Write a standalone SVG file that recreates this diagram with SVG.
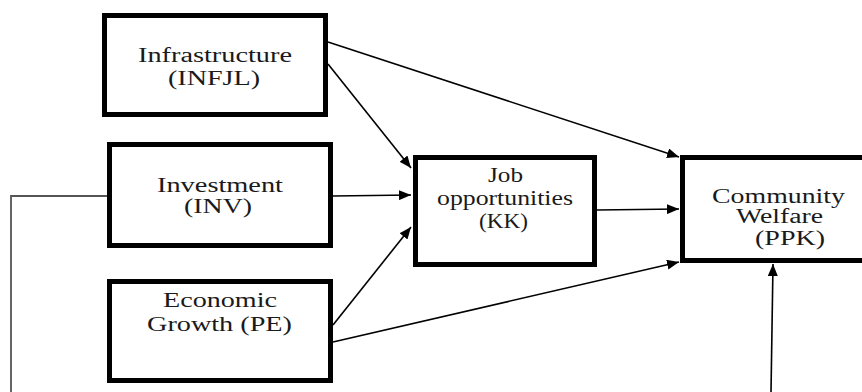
<svg xmlns="http://www.w3.org/2000/svg" width="862" height="392" viewBox="0 0 862 392">
<defs>
<marker id="ah" viewBox="0 0 12 10" refX="12" refY="5" markerWidth="12" markerHeight="10" markerUnits="userSpaceOnUse" orient="auto">
<path d="M0,0 L12,5 L0,10 Z" fill="#000"/>
</marker>
<style>
.box{fill:#fff;stroke:#000;stroke-width:5}
.t{font-family:'Liberation Serif','Times New Roman',serif;font-size:20px;fill:#1a1a1a}
.c{fill:none;stroke:#000;stroke-width:1.6}
.f{fill:none;stroke:#555;stroke-width:1.8}
</style>
</defs>
<rect width="862" height="392" fill="#fff"/>
<g id="connectors">
<line class="c" x1="328" y1="42" x2="679" y2="157" marker-end="url(#ah)"/>
<line class="c" x1="328" y1="64" x2="411" y2="168" marker-end="url(#ah)"/>
<line class="c" x1="333" y1="196" x2="411" y2="195" marker-end="url(#ah)"/>
<line class="c" x1="333" y1="325" x2="411" y2="227" marker-end="url(#ah)"/>
<line class="c" x1="333" y1="342" x2="679" y2="262" marker-end="url(#ah)"/>
<line class="c" x1="597" y1="210" x2="679" y2="209" marker-end="url(#ah)"/>
<polyline class="f" points="107,196 11,196 11,392"/>
<line class="c" x1="771" y1="392" x2="773" y2="264" marker-end="url(#ah)"/>
</g>
<g id="INFJL">
<rect class="box" x="104.5" y="15.5" width="221" height="99"/>
<text class="t" x="138" y="62" textLength="154" lengthAdjust="spacingAndGlyphs">Infrastructure</text>
<text class="t" x="168" y="85" textLength="92" lengthAdjust="spacingAndGlyphs">(INFJL)</text>
</g>
<g id="INV">
<rect class="box" x="109.5" y="144.5" width="221" height="101"/>
<text class="t" x="157" y="192" textLength="126" lengthAdjust="spacingAndGlyphs">Investment</text>
<text class="t" x="184" y="213" textLength="68" lengthAdjust="spacingAndGlyphs">(INV)</text>
</g>
<g id="PE">
<rect class="box" x="109.5" y="281.5" width="221" height="99"/>
<text class="t" x="163" y="307" textLength="114" lengthAdjust="spacingAndGlyphs">Economic</text>
<text class="t" x="147" y="331" textLength="145" lengthAdjust="spacingAndGlyphs">Growth (PE)</text>
</g>
<g id="KK">
<rect class="box" x="415.5" y="157.5" width="179" height="107"/>
<text class="t" x="488" y="182" textLength="35" lengthAdjust="spacingAndGlyphs">Job</text>
<text class="t" x="437" y="205" textLength="136" lengthAdjust="spacingAndGlyphs">opportunities</text>
<text class="t" x="479" y="228" textLength="49" lengthAdjust="spacingAndGlyphs">(KK)</text>
</g>
<g id="PPK">
<rect class="box" x="682.5" y="157.5" width="200" height="103"/>
<text class="t" x="712" y="203" textLength="133" lengthAdjust="spacingAndGlyphs">Community</text>
<text class="t" x="736" y="223" textLength="87" lengthAdjust="spacingAndGlyphs">Welfare</text>
<text class="t" x="755" y="245" textLength="70" lengthAdjust="spacingAndGlyphs">(PPK)</text>
</g>
</svg>
